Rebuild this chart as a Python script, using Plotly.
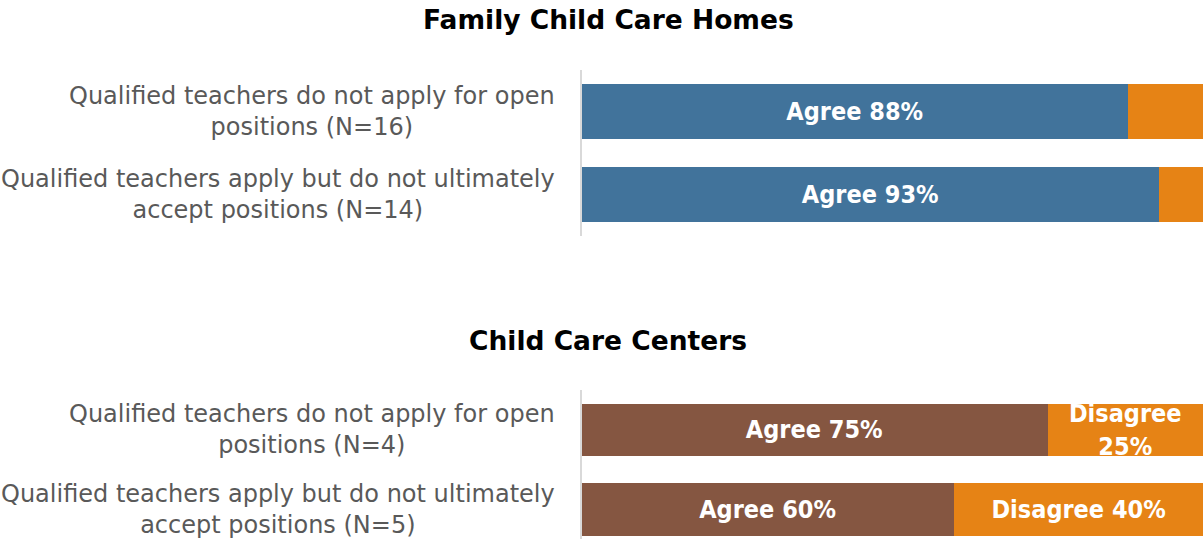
import plotly.graph_objects as go

# Survey statements (row labels)
fcc_items = [
    "Qualified teachers do not apply for open<br>positions (N=16)",
    "Qualified teachers apply but do not ultimately<br>accept positions (N=14)",
]
ccc_items = [
    "Qualified teachers do not apply for open<br>positions (N=4)",
    "Qualified teachers apply but do not ultimately<br>accept positions (N=5)",
]

# Percent agree / disagree
fcc_agree = [88, 93]
fcc_disagree = [12, 7]
ccc_agree = [75, 60]
ccc_disagree = [25, 40]

# Segment labels
fcc_agree_text = ["Agree 88%", "Agree 93%"]
fcc_disagree_text = ["", ""]
ccc_agree_text = ["Agree 75%", "Agree 60%"]
ccc_disagree_text = ["Disagree<br>25%", "Disagree 40%"]

panel_titles = ["Family Child Care Homes", "Child Care Centers"]

BLUE = "#41739b"
BROWN = "#855641"
ORANGE = "#e68315"
FONT = "DejaVu Sans"
FONT_NARROW = "DejaVu Sans Condensed"

W, H = 1203, 539


def py(p):
    return 1 - p / H


fig = go.Figure()

bar_font = dict(family=FONT_NARROW, size=25, color="white", weight="bold")


def add_bar(x, y, color, text, yaxis):
    fig.add_trace(go.Bar(
        x=x, y=y, orientation="h", marker=dict(color=color, line=dict(width=0)),
        text=text, textposition="inside", insidetextanchor="middle",
        constraintext="none", textfont=bar_font, hoverinfo="skip",
        xaxis="x" if yaxis == "y" else "x2", yaxis=yaxis, showlegend=False,
        cliponaxis=False,
    ))


idx = [0, 1]
add_bar(fcc_agree, idx, BLUE, fcc_agree_text, "y")
add_bar(fcc_disagree, idx, ORANGE, fcc_disagree_text, "y")
add_bar(ccc_agree, idx, BROWN, ccc_agree_text, "y2")
add_bar(ccc_disagree, idx, ORANGE, ccc_disagree_text, "y2")

x0 = 581 / W
xaxis_common = dict(range=[0, 100], domain=[x0, 1], showgrid=False, zeroline=False,
                    showticklabels=False, showline=False, fixedrange=True)

fig.update_layout(
    width=W, height=H, margin=dict(l=0, r=0, t=0, b=0),
    paper_bgcolor="white", plot_bgcolor="white",
    barmode="stack", bargap=0.34,
    xaxis=dict(**xaxis_common, anchor="y"),
    xaxis2=dict(**xaxis_common, anchor="y2"),
    yaxis=dict(domain=[py(236), py(70)], range=[1.5, -0.5], showticklabels=False,
               showgrid=False, zeroline=False, showline=False, anchor="x"),
    yaxis2=dict(domain=[0, py(390)], range=[1.37, -0.5], showticklabels=False,
                showgrid=False, zeroline=False, showline=False, anchor="x2"),
    font=dict(family=FONT),
)

# Vertical baseline at 0%
for yr, (a, b) in (("y", (236, 70)), ("y2", (539, 390))):
    fig.add_shape(type="line", xref="paper", yref="paper", x0=x0, x1=x0,
                  y0=py(a), y1=py(b), line=dict(color="#d9d9d9", width=2))

# Row labels, centred multi-line text to the left of the bars
for items, yr in ((fcc_items, "y"), (ccc_items, "y2")):
    for i, lab in enumerate(items):
        fig.add_annotation(text=lab, x=557 / W, xref="paper", xanchor="right",
                           y=i, yref=yr, yanchor="middle", align="center",
                           showarrow=False,
                           font=dict(family=FONT, size=24, color="#595959"))

# Panel titles
for title, ypix in zip(panel_titles, (20, 340)):
    fig.add_annotation(text="<b>%s</b>" % title, x=608 / W, xref="paper", xanchor="center",
                       y=py(ypix), yref="paper", yanchor="middle", showarrow=False,
                       font=dict(family=FONT, size=26.5, color="black"))

fig.write_html("out.html")
